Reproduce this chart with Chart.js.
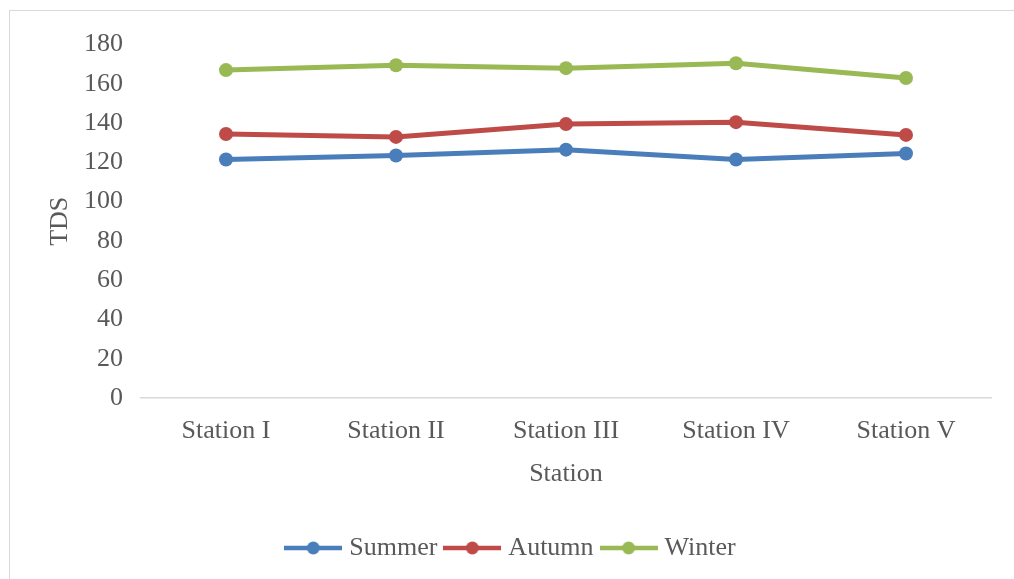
<!DOCTYPE html>
<html>
<head>
<meta charset="utf-8">
<script src="https://cdn.jsdelivr.net/npm/chart.js@4/dist/chart.umd.min.js"></script>
<style>
  html, body { margin: 0; padding: 0; background: #ffffff; }
  #frame { position: absolute; left: 9px; top: 10px; width: 1010px; height: 575px; border: 1px solid #d9d9d9; box-sizing: border-box; }
  #wrap { position: absolute; left: 10px; top: 11px; width: 1004px; height: 568px; }
</style>
</head>
<body>
<div id="frame"></div>
<div id="wrap"><canvas id="c"></canvas></div>
<script>
const stations = ['Station I', 'Station II', 'Station III', 'Station IV', 'Station V'];
const summer = [121.5, 123.5, 126.5, 121.5, 124.5];
const autumn = [134.5, 133, 139.5, 140.5, 134];
const winter = [167, 169.5, 168, 170.5, 163];
const seriesNames = ['Summer', 'Autumn', 'Winter'];
const seriesColors = ['#4a7ebb', '#be4b48', '#98b954'];

const FONT = '"Liberation Serif", "Times New Roman", serif';
const TEXT = '#595959';
const SIZE = 26;

// Legend marker: a short line with a dot in the middle
function legendMarker(color) {
  const cv = document.createElement('canvas');
  cv.width = 58; cv.height = 16;
  const g = cv.getContext('2d');
  g.strokeStyle = color; g.lineWidth = 4.5; g.lineCap = 'butt';
  g.beginPath(); g.moveTo(0, 8); g.lineTo(58, 8); g.stroke();
  g.fillStyle = color;
  g.beginPath(); g.arc(29, 8, 6.5, 0, Math.PI * 2); g.fill();
  return cv;
}

const values = [summer, autumn, winter];
const datasets = seriesNames.map((name, i) => ({
  label: name,
  data: values[i],
  borderColor: seriesColors[i],
  backgroundColor: seriesColors[i],
  borderWidth: 5,
  pointRadius: 7,
  pointHoverRadius: 7,
  pointBackgroundColor: seriesColors[i],
  pointBorderWidth: 0,
  tension: 0
}));

new Chart(document.getElementById('c'), {
  type: 'line',
  data: { labels: stations, datasets },
  options: {
    responsive: true,
    maintainAspectRatio: false,
    animation: false,
    layout: { padding: { left: 25, right: 23, top: 12, bottom: 8 } },
    scales: {
      x: {
        offset: true,
        afterFit(scale) { scale.height = 125; },
        grid: { display: false, drawTicks: false },
        border: { display: true, color: '#d9d9d9', width: 1.5 },
        ticks: { color: TEXT, font: { family: FONT, size: SIZE }, padding: 18, maxRotation: 0 },
        title: { display: true, text: 'Station', color: TEXT, font: { family: FONT, size: SIZE }, padding: { top: 0, bottom: 33 } }
      },
      y: {
        min: 0, max: 180,
        afterFit(scale) { scale.width = 106; },
        grid: { display: false, drawTicks: false },
        border: { display: false },
        ticks: { stepSize: 20, color: TEXT, font: { family: FONT, size: SIZE }, padding: 18 },
        title: { display: true, text: 'TDS', color: TEXT, font: { family: FONT, size: SIZE }, padding: { top: 9.4, bottom: 0 } }
      }
    },
    plugins: {
      tooltip: { enabled: false },
      legend: {
        position: 'bottom',
        labels: {
          color: TEXT,
          font: { family: FONT, size: SIZE },
          usePointStyle: true,
          pointStyleWidth: 46,
          boxHeight: 16,
          padding: 12,
          generateLabels(chart) {
            return chart.data.datasets.map((ds, i) => ({
              text: ds.label,
              fillStyle: ds.borderColor,
              strokeStyle: ds.borderColor,
              fontColor: TEXT,
              pointStyle: legendMarker(ds.borderColor),
              datasetIndex: i,
              hidden: false,
              lineWidth: 0
            }));
          }
        }
      }
    }
  }
});
</script>
</body>
</html>
